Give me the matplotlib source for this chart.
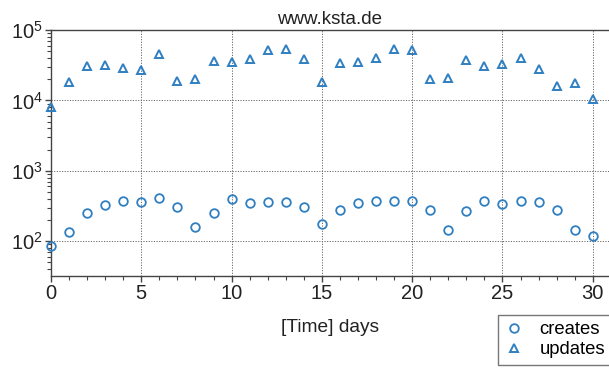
import numpy as np
import matplotlib
matplotlib.use("Agg")
import matplotlib.pyplot as plt
from matplotlib.ticker import LogLocator, MultipleLocator, NullFormatter

plt.rcParams["font.family"] = ["Liberation Sans", "DejaVu Sans"]

days = list(range(31))
creates = [84, 135, 250, 328, 377, 361, 407, 303, 160, 255,
           394, 346, 361, 365, 310, 176, 278, 353, 369, 377,
           373, 278, 146, 272, 377, 335, 369, 357, 275, 145, 120]
updates = [8170, 18500, 30900, 31500, 28600, 26800, 45700, 18900, 20200, 36700,
           35600, 39200, 52000, 53200, 38400, 18500, 33600, 35100, 40400, 53200,
           52500, 20000, 21100, 37900, 31200, 33000, 40100, 28000, 16100, 17500, 10500]

BLUE = "#2f7fc1"
W, H = 609, 369

fig = plt.figure(figsize=(W / 100, H / 100), dpi=100)
ax = fig.add_axes([51 / W, 93 / H, (W - 51) / W, (276 - 30) / H])

ax.plot(days, creates, "o", ms=6.2, mfc="none", mec=BLUE, mew=1.3, label="creates",
        clip_on=False, zorder=3)
ax.plot(days, updates, "^", ms=5.8, mfc="none", mec=BLUE, mew=1.4, label="updates",
        clip_on=False, zorder=3)

ax.set_yscale("log")
ax.set_ylim(32, 1e5)
ax.set_xlim(0, 30.9)
ax.xaxis.set_major_locator(MultipleLocator(5))
ax.xaxis.set_minor_locator(MultipleLocator(1))
ax.yaxis.set_major_locator(LogLocator(base=10, numticks=10))
ax.yaxis.set_minor_locator(LogLocator(base=10, subs=np.arange(2, 10), numticks=10))
ax.yaxis.set_minor_formatter(NullFormatter())

ax.grid(True, which="major", linestyle=(0, (1.2, 1.5)), color="#666666", linewidth=0.7)
ax.spines["right"].set_visible(False)
for side in ["left", "bottom", "top"]:
    ax.spines[side].set_color("#444444")
    ax.spines[side].set_linewidth(1.0)
ax.tick_params(which="both", direction="out", colors="#444444", labelcolor="#222222",
               labelsize=14.5, top=False, right=False)
ax.tick_params(which="major", length=4, width=1.0, pad=2)
ax.tick_params(which="minor", length=3, width=0.8)

ax.set_title("www.ksta.de", fontsize=13.5, color="#222222", pad=4)
ax.set_xlabel("[Time] days", fontsize=13.8, color="#222222", labelpad=11)

leg = fig.legend(loc="upper left", bbox_to_anchor=(498 / W, (H - 315) / H),
                 bbox_transform=fig.transFigure, borderaxespad=0, fontsize=13.3,
                 fancybox=False, frameon=True, handlelength=1.0, handletextpad=0.9,
                 borderpad=0.35, labelspacing=0.15)
leg.get_frame().set_edgecolor("#555555")
leg.get_frame().set_linewidth(1.0)

fig.savefig("out.png", dpi=100)
